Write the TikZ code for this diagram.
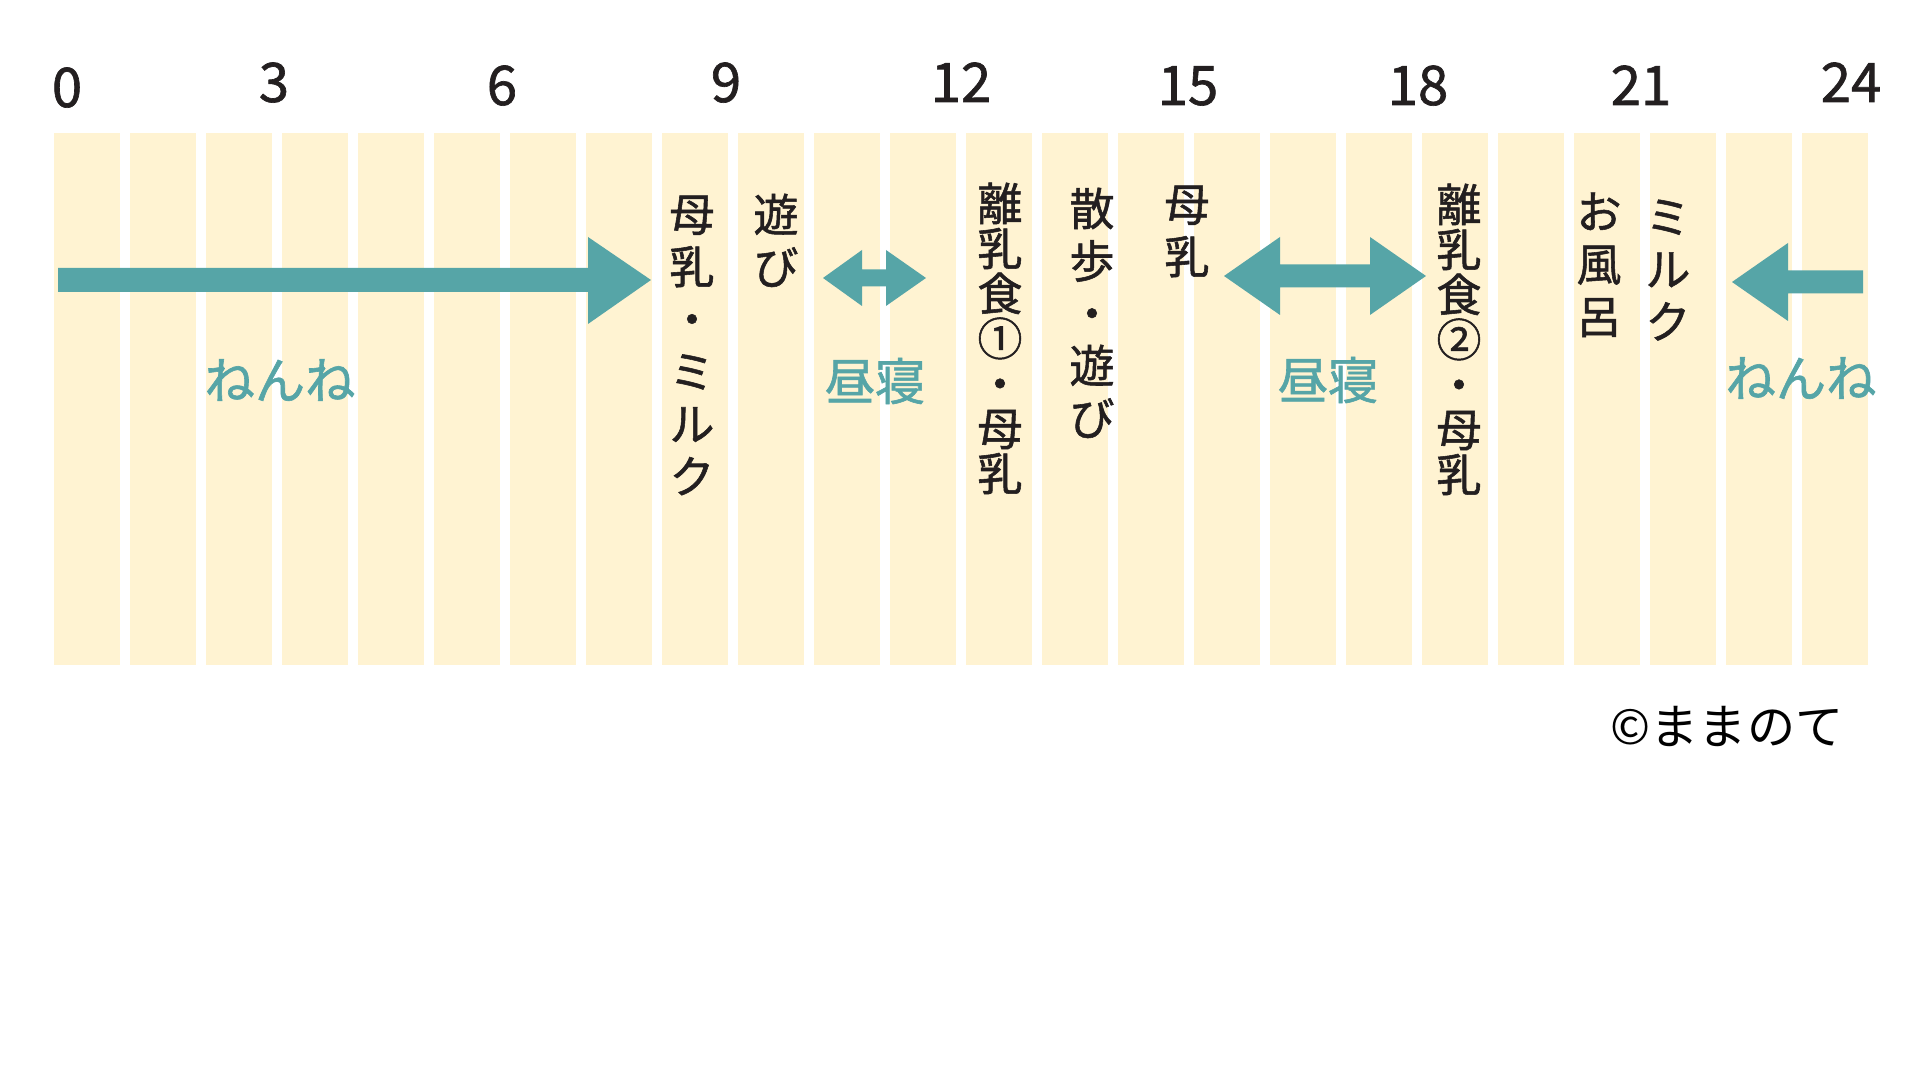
\documentclass[tikz,border=0pt]{standalone}
\usepackage{fontspec}
\setmainfont{Noto Sans CJK JP}
\newfontfamily\heavy[FakeBold=1.2]{Noto Sans CJK JP}
\definecolor{nap}{HTML}{56A5A7}
\definecolor{cream}{HTML}{FFF3D2}
\definecolor{ink}{HTML}{231F20}
\newcommand{\tightlines}{\lineskiplimit=-100pt\relax}
\begin{document}
\begin{tikzpicture}[x=0.01cm,y=-0.01cm,
        tate/.style={anchor=north,inner sep=0pt,align=center,text=ink,font=\heavy\fontsize{12.8}{14.9}\selectfont\tightlines},
        tatetight/.style={tate,font=\heavy\fontsize{12.8}{12.8}\selectfont\tightlines},
        hour/.style={anchor=base,inner sep=0pt,text=ink,font=\heavy\fontsize{15.5}{18}\selectfont},
        sleep/.style={inner sep=0pt,text=nap,font=\heavy\fontsize{14.3}{17}\selectfont}]
        \useasboundingbox (0,0) rectangle (1920,1080);
        % columns, one per hour
        \foreach \k in {0,...,23}
                \fill [cream] ({54+76*\k},133) rectangle ({120+76*\k},665);
        % hours
        \node[hour] (h0) at (67,107) {0};
        \node[hour] (h3) at (274,102) {3};
        \node[hour] (h6) at (502,105) {6};
        \node[hour] (h9) at (726,102) {9};
        \node[hour] (h12) at (961,102) {12};
        \node[hour] (h15) at (1188,105) {15};
        \node[hour] (h18) at (1418,105) {18};
        \node[hour] (h21) at (1641,105) {21};
        \node[hour] (h24) at (1851,102) {24};
        % arrows
        \fill [nap] (58,268) -- (588,268) -- (588,237) -- (651,280) -- (588,324) -- (588,292) -- (58,292) -- cycle;
        \fill [nap] (823,278) -- (862,250) -- (862,269.5) -- (886,269.5) -- (886,250) -- (926,278) -- (886,306) -- (886,286.5) -- (862,286.5) -- (862,306) -- cycle;
        \fill [nap] (1224,276) -- (1280,237) -- (1280,264.5) -- (1370,264.5) -- (1370,237) -- (1426,276) -- (1370,315) -- (1370,287.5) -- (1280,287.5) -- (1280,315) -- cycle;
        \fill [nap] (1732,282) -- (1788,243) -- (1788,270.5) -- (1863,270.5) -- (1863,293.5) -- (1788,293.5) -- (1788,321) -- cycle;
        \node[sleep] (nenne1) at (280,380) {ねんね};
        \node[sleep] (hirune1) at (875,381) {昼寝};
        \node[sleep] (hirune2) at (1328,380) {昼寝};
        \node[sleep] (nenne2) at (1801,378) {ねんね};
        % what happens
        \node[tate] (milk1) at (692,195) {母\\乳\\・\\ミ\\ル\\ク};
        \node[tate] (play) at (776,193) {遊\\び};
        \node[tatetight] (food1) at (1000,182) {離\\乳\\食\\①\\・\\母\\乳};
        \node[tate] (walk) at (1092,187) {散\\歩\\・\\遊\\び};
        \node[tate] (milk2) at (1187,185) {母\\乳};
        \node[tatetight] (food2) at (1459,183) {離\\乳\\食\\②\\・\\母\\乳};
        \node[tate] (bath) at (1599,192) {お\\風\\呂};
        \node[tate] (milk3) at (1668,199) {ミ\\ル\\ク};
        \node[inner sep=0pt,font=\fontsize{13.7}{16}\selectfont] (credit) at (1727,726) {©ままのて};
        \end{tikzpicture}
\end{document}
